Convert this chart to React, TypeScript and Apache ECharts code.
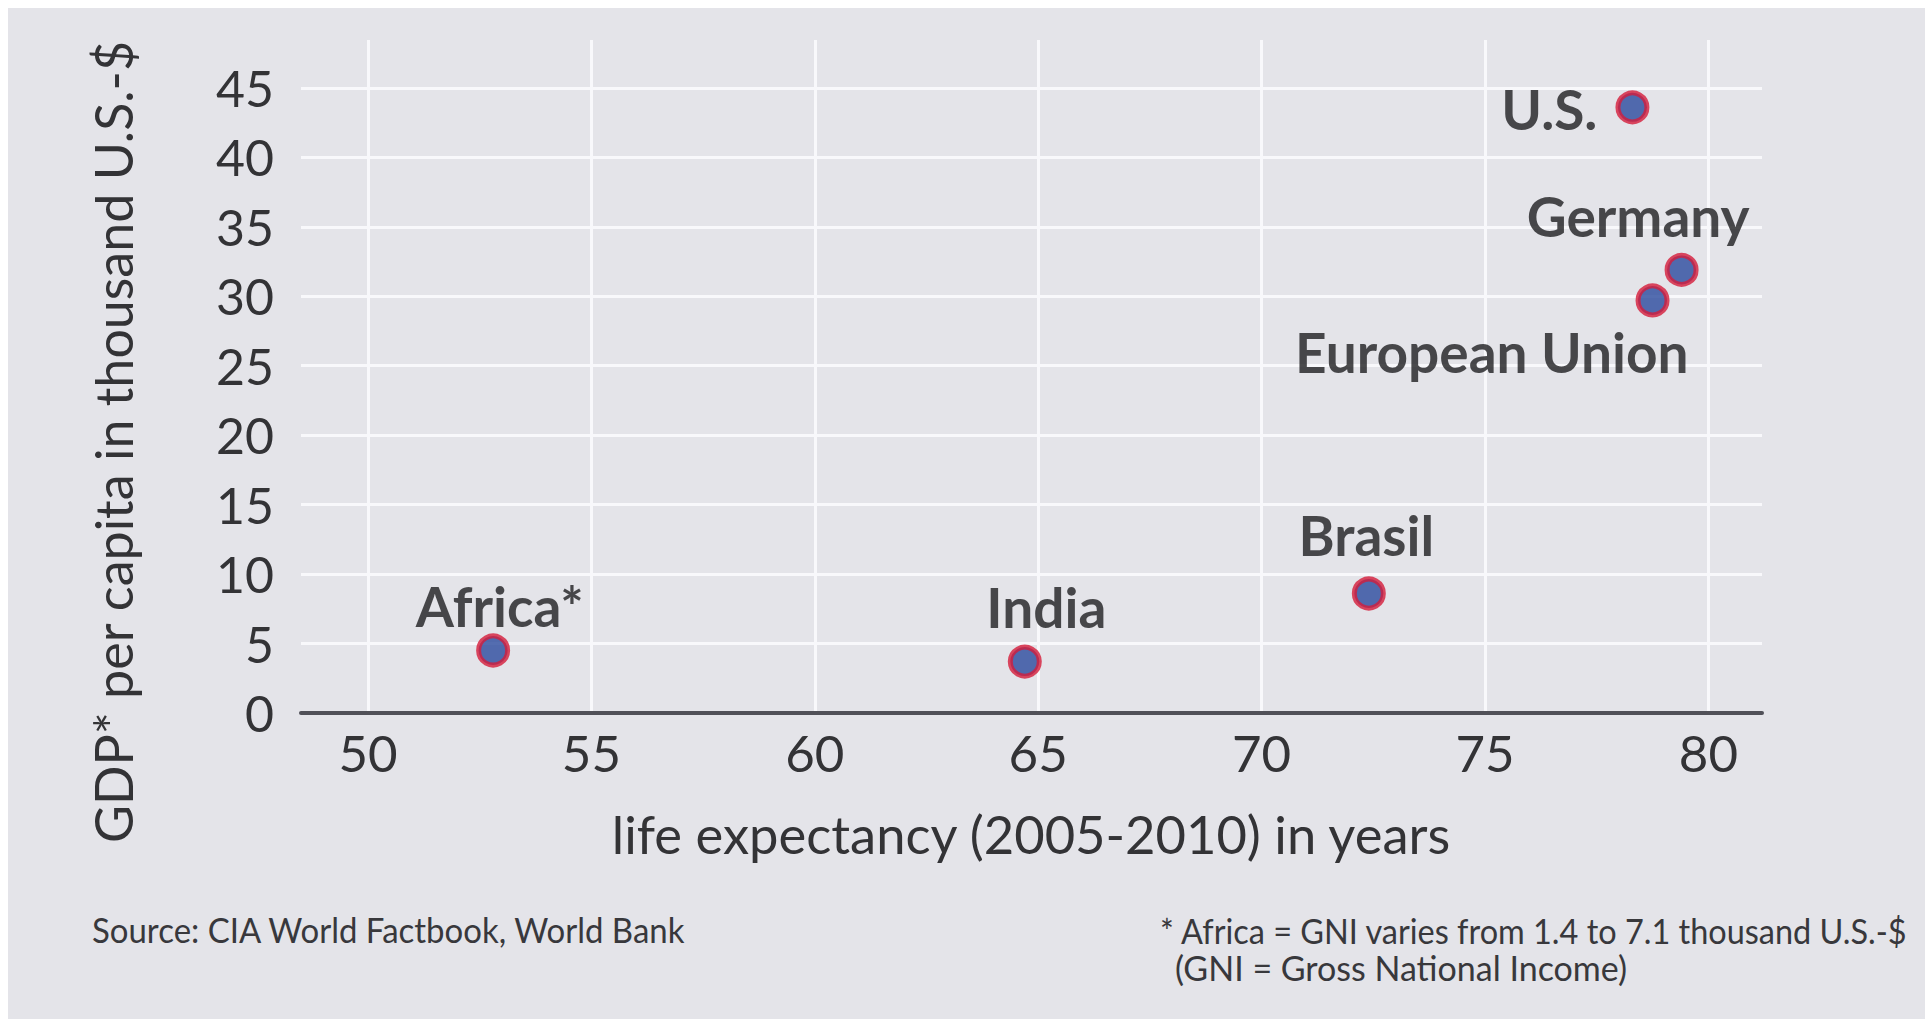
import React, { useEffect, useRef } from "react";
import * as echarts from "echarts";

// ---- data ----
const countries = ["Africa*", "India", "Brasil", "U.S.", "Germany", "European Union"];
const lifeExpectancy = [52.8, 64.7, 72.4, 78.3, 79.4, 78.75];
const gdpPerCapita = [4.5, 3.7, 8.6, 43.6, 31.9, 29.7];

const xAxisTitle = "life expectancy (2005-2010) in years";
const yAxisTitle = "GDP* per capita in thousand U.S.-$";
const sourceNote = "Source: CIA World Factbook, World Bank";
const footnoteLines = [
  "* Africa = GNI varies from 1.4 to 7.1 thousand U.S.-$",
  "(GNI = Gross National Income)",
];

// ---- label placement (style, not data) ----
const labelPlacement: { align: string; offset: [number, number] }[] = [
  { align: "center", offset: [6.5, -44] },
  { align: "center", offset: [21.5, -55] },
  { align: "center", offset: [-2.5, -59] },
  { align: "right", offset: [-35, 2] },
  { align: "right", offset: [68, -54] },
  { align: "right", offset: [36, 52] },
];

const FONT = "Lato, 'Open Sans', sans-serif";
const BG = "#e4e4e9";
const GRID_COLOR = "#f8f8fb";
const TEXT = "#333336";

export default function App() {
  const ref = useRef<HTMLDivElement>(null);

  useEffect(() => {
    if (!ref.current) return;
    const chart = echarts.init(ref.current, null, { renderer: "svg" });
    const tickFormatter = (v: number) => (Math.abs(v % 5) < 1e-9 ? String(v) : "");

    const noteStyle = {
      fontFamily: FONT,
      fontSize: 34,
      lineHeight: 34,
      fill: "#38383c",
      align: "left",
      verticalAlign: "middle",
    };

    chart.setOption({
      animation: false,
      backgroundColor: BG,
      grid: { left: 293, top: 32, right: 163, bottom: 306, containLabel: false },
      xAxis: {
        type: "value",
        min: 48.5,
        max: 81.2,
        minInterval: 5,
        maxInterval: 5,
        axisLine: { show: true, onZero: false, lineStyle: { color: "#505058", width: 4 } },
        axisTick: { show: false },
        axisLabel: {
          fontFamily: FONT,
          fontSize: 51,
          color: TEXT,
          margin: 14,
          formatter: tickFormatter,
        },
        splitLine: {
          show: true,
          showMinLine: false,
          showMaxLine: false,
          lineStyle: { color: GRID_COLOR, width: 3 },
        },
      },
      yAxis: {
        type: "value",
        min: 0,
        max: 48.45,
        minInterval: 5,
        maxInterval: 5,
        axisLine: { show: false },
        axisTick: { show: false },
        axisLabel: {
          fontFamily: FONT,
          fontSize: 50,
          color: TEXT,
          margin: 27,
          formatter: tickFormatter,
        },
        splitLine: {
          show: true,
          showMaxLine: false,
          lineStyle: { color: GRID_COLOR, width: 3 },
        },
      },
      series: [
        {
          type: "scatter",
          symbol: "circle",
          symbolSize: 29,
          itemStyle: { color: "#2a4a9e", borderColor: "#d41c3a", borderWidth: 5 },
          label: {
            show: true,
            formatter: "{b}",
            position: "inside",
            verticalAlign: "middle",
            fontFamily: FONT,
            fontWeight: "bold",
            fontSize: 55,
            color: "#1e1e21",
          },
          data: countries.map((name, i) => ({
            name,
            value: [lifeExpectancy[i], gdpPerCapita[i]],
            label: { align: labelPlacement[i].align, offset: labelPlacement[i].offset },
          })),
        },
      ],
      graphic: [
        {
          type: "text",
          x: 105,
          y: 434,
          rotation: Math.PI / 2,
          style: {
            text: yAxisTitle,
            fontFamily: FONT,
            fontSize: 52,
            fill: TEXT,
            align: "center",
            verticalAlign: "middle",
          },
        },
        {
          type: "text",
          x: 1023,
          y: 825,
          style: {
            text: xAxisTitle,
            fontFamily: FONT,
            fontSize: 52.5,
            fill: TEXT,
            align: "center",
            verticalAlign: "middle",
          },
        },
        {
          type: "text",
          x: 84,
          y: 922,
          scaleX: 0.97,
          style: { ...noteStyle, text: sourceNote },
        },
        {
          type: "text",
          x: 1152,
          y: 923,
          scaleX: 0.955,
          style: { ...noteStyle, text: footnoteLines[0] },
        },
        {
          type: "text",
          x: 1167,
          y: 959,
          style: { ...noteStyle, text: footnoteLines[1] },
        },
      ],
    });

    return () => chart.dispose();
  }, []);

  return (
    <div
      ref={ref}
      style={{ position: "fixed", left: 8, top: 8, width: 1917, height: 1011 }}
    />
  );
}
